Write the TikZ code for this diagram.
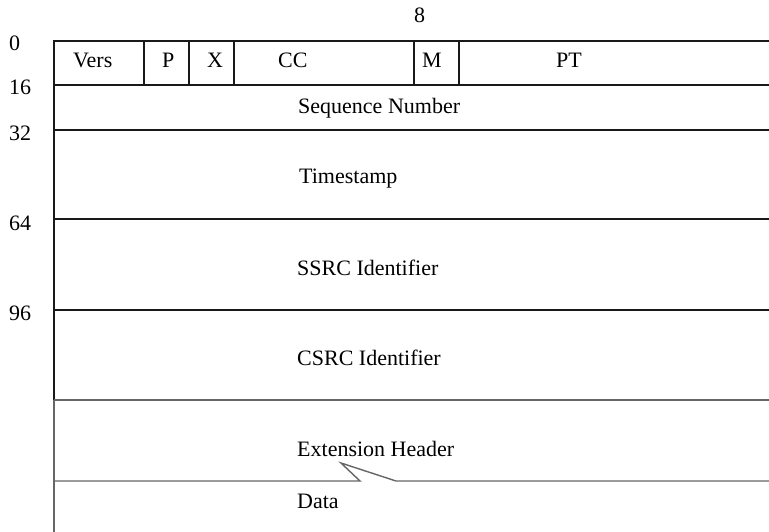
\documentclass[tikz,border=0pt]{standalone}
\usepackage{fontspec}
\setmainfont{Liberation Serif}
\usepackage{xcolor}

\begin{document}
\begin{tikzpicture}[x=1pt,y=-1pt,
  txt/.style={anchor=base west,inner sep=0pt,font=\fontsize{22}{24}\selectfont},
  rule/.style={line width=1.1pt,black!90},
  lowrule/.style={line width=1.4pt,black!60}]
  \useasboundingbox (0,0) rectangle (769,532);
  % Marca de bits
  \node[txt] (b8) at (414,23) {8};
  % Desplazamientos
  \node[txt] (o0) at (9,51) {0};
  \node[txt] (o16) at (9,95) {16};
  \node[txt] (o32) at (9,141) {32};
  \node[txt] (o64) at (9,230) {64};
  \node[txt] (o96) at (9,320) {96};
  % Marco
  \draw[rule] (54,400) -- (54,41) -- (769,41);
  \draw[lowrule] (54,400) -- (54,532);
  \draw[rule] (54,85) -- (769,85);
  \draw[rule] (54,130) -- (769,130);
  \draw[rule] (54,219) -- (769,219);
  \draw[rule] (54,310) -- (769,310);
  \draw[lowrule] (54,400) -- (769,400);
  % Corte entre cabecera y datos
  \draw[lowrule] (54,481) -- (360,481) -- (341,463) -- (396,481) -- (769,481);
  % Campos de la primera fila
  \foreach \xx in {144,189,234,414,459}
    \draw[rule] (\xx,41) -- (\xx,85);
  \node[txt] (vers) at (73,68) {Vers};
  \node[txt] (pad) at (162,68) {P};
  \node[txt] (ext) at (207,68) {X};
  \node[txt] (cc) at (278,68) {CC};
  \node[txt] (mark) at (422,68) {M};
  \node[txt] (pt) at (556,68) {PT};
  % Resto de campos
  \node[txt] (seq) at (298,114) {Sequence Number};
  \node[txt] (ts) at (299,184) {Timestamp};
  \node[txt] (ssrc) at (297,275) {SSRC Identifier};
  \node[txt] (csrc) at (297,365) {CSRC Identifier};
  \node[txt] (exth) at (297,456) {Extension Header};
  \node[txt] (data) at (297,508) {Data};
\end{tikzpicture}
\end{document}
